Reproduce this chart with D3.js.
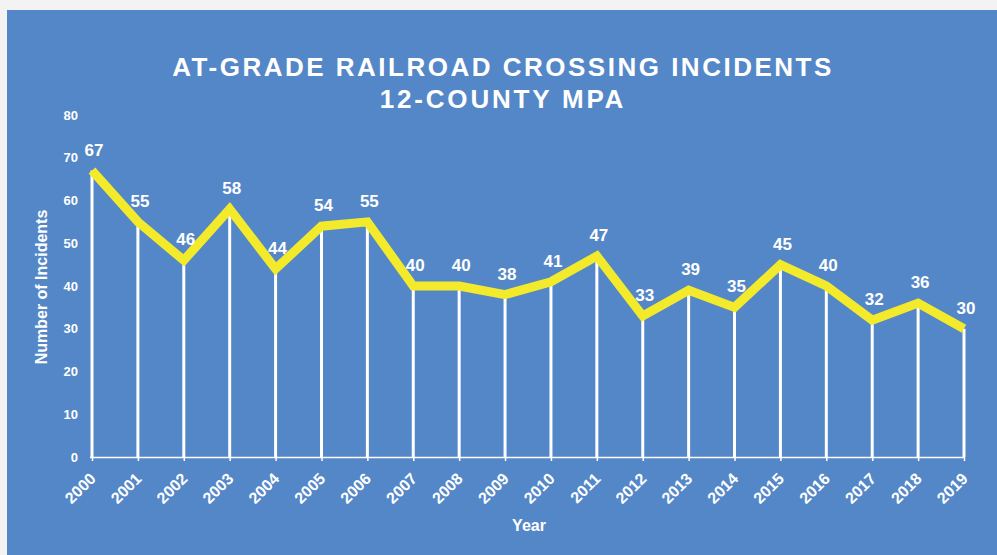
<!DOCTYPE html>
<html>
<head>
<meta charset="utf-8">
<script src="https://cdn.jsdelivr.net/npm/d3@7"></script>
<style>
  html, body { margin: 0; padding: 0; background: #f3f3f3; }
  svg { display: block; font-family: "Liberation Sans", Arial, sans-serif; }
</style>
</head>
<body>
<svg id="chart"></svg>
<script>
var years = ["2000","2001","2002","2003","2004","2005","2006","2007","2008","2009",
             "2010","2011","2012","2013","2014","2015","2016","2017","2018","2019"];
var incidents = [67,55,46,58,44,54,55,40,40,38,41,47,33,39,35,45,40,32,36,30];
var yTicks = [0,10,20,30,40,50,60,70,80];
var titleLines = ["AT-GRADE RAILROAD CROSSING INCIDENTS", "12-COUNTY MPA"];

var data = years.map(function(y, i) { return {year: y, value: incidents[i]}; });

var width = 997, height = 555;
var svg = d3.select("#chart").attr("width", width).attr("height", height);

// blue panel
svg.append("rect")
  .attr("x", 7).attr("y", 10)
  .attr("width", width - 7).attr("height", height - 10)
  .attr("fill", "#5487c7");

var xScale = d3.scalePoint().domain(years).range([92, 964]);
var yScale = d3.scaleLinear().domain([0, 80]).range([457, 115]);

// title
svg.selectAll(".title")
  .data(titleLines)
  .enter().append("text")
  .attr("x", 503)
  .attr("y", function(d, i) { return 76 + i * 32; })
  .attr("text-anchor", "middle")
  .attr("fill", "#fff")
  .style("font-size", "26px")
  .style("font-weight", "bold")
  .style("letter-spacing", function(d, i) { return i == 0 ? "2.5px" : "2.8px"; })
  .text(function(d) { return d; });

// x axis
var xAxis = svg.append("g")
  .attr("transform", "translate(0," + yScale(0) + ")")
  .call(d3.axisBottom(xScale).tickSize(4).tickSizeOuter(0));
xAxis.select(".domain").attr("stroke", "#fff").attr("stroke-width", 1.5)
  .attr("d", "M" + (xScale("2000") - 2) + ",0.5H" + xScale("2019"));
xAxis.selectAll(".tick line").attr("stroke", "#fff").attr("stroke-width", 1.5);
xAxis.selectAll(".tick text")
  .attr("fill", "#fff")
  .style("font-size", "16px")
  .style("font-weight", "bold")
  .attr("text-anchor", "end")
  .attr("dx", -13)
  .attr("dy", 12)
  .attr("transform", "rotate(-45)");

// y axis (labels only)
var yAxis = svg.append("g")
  .attr("transform", "translate(78,0)")
  .call(d3.axisLeft(yScale).tickValues(yTicks).tickSize(0).tickPadding(0));
yAxis.select(".domain").remove();
yAxis.selectAll(".tick text")
  .attr("fill", "#fff")
  .style("font-size", "13px")
  .style("font-weight", "bold");

// axis titles
svg.append("text")
  .attr("transform", "translate(47,287) rotate(-90)")
  .attr("text-anchor", "middle")
  .attr("fill", "#fff")
  .style("font-size", "16px")
  .style("font-weight", "bold")
  .text("Number of Incidents");

svg.append("text")
  .attr("x", 529).attr("y", 531)
  .attr("text-anchor", "middle")
  .attr("fill", "#fff")
  .style("font-size", "16px")
  .style("font-weight", "bold")
  .text("Year");

// drop lines
svg.selectAll(".drop")
  .data(data)
  .enter().append("line")
  .attr("x1", function(d) { return xScale(d.year); })
  .attr("x2", function(d) { return xScale(d.year); })
  .attr("y1", function(d) { return yScale(d.value); })
  .attr("y2", yScale(0))
  .attr("stroke", "#fff")
  .attr("stroke-width", 3);

// yellow line
var line = d3.line()
  .x(function(d) { return xScale(d.year); })
  .y(function(d) { return yScale(d.value); });

svg.append("path")
  .datum(data)
  .attr("d", line)
  .attr("fill", "none")
  .attr("stroke", "#f3ea2b")
  .attr("stroke-width", 9)
  .attr("stroke-linejoin", "miter");

// value labels
svg.selectAll(".val")
  .data(data)
  .enter().append("text")
  .attr("x", function(d) { return xScale(d.year) + 2; })
  .attr("y", function(d) { return yScale(d.value) - 15; })
  .attr("text-anchor", "middle")
  .attr("fill", "#fff")
  .style("font-size", "17px")
  .style("font-weight", "bold")
  .text(function(d) { return d.value; });
</script>
</body>
</html>
